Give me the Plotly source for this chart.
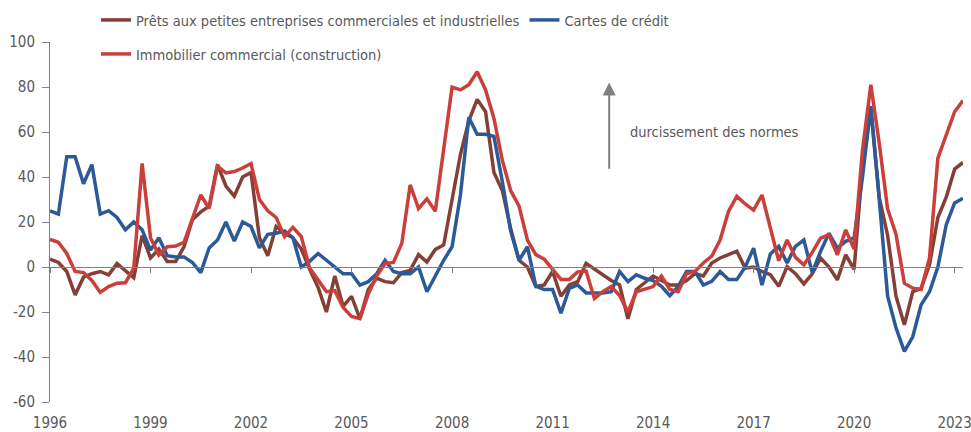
import plotly.graph_objects as go

# ---------------- data (quarterly, 1996Q1 .. 2023Q2) ----------------
start_year = 1996

prets = [
    3.5, 2, -2, -12.4,
    -4.5, -3, -2, -3.5,
    1.5, -1.5, -4.8, 14,
    4, 8, 2.4, 2.4,
    9, 21, 24.5, 27,
    45.5, 36, 31.5, 40,
    42, 13, 5, 18,
    15, 13, 8, -1,
    -9, -20, -4, -17.5,
    -13, -23, -10, -5,
    -6.5, -7, -2.5, -1.5,
    5.5, 2.2, 7.8, 9.8,
    30, 50, 65, 74.5,
    69, 42, 34, 17,
    3, 0, -8.7, -8,
    -2, -13, -8, -6.5,
    1.6, -1, -3.5, -6,
    -8, -23, -10, -7,
    -4, -6, -8, -8,
    -6, -3, -4, 1.8,
    4, 5.5, 7, -0.5,
    0, -2, -3.4, -8.6,
    0.2, -3, -7.5, -3,
    4, 0, -5.7, 5.4,
    -1, 45, 70, 31,
    14, -13, -25.7, -11,
    -9.5, 1, 22, 31,
    43.5, 46.5,
]

cartes = [
    25, 23.5, 49, 49,
    37, 45.5, 23.5, 25,
    22, 16.5, 20, 16.5,
    7.5, 13, 5, 4.5,
    4.5, 2, -2.5, 8.5,
    12, 20, 11.5, 20,
    18, 8.5, 14.5, 15,
    16, 13, 0, 2.5,
    6, 3, 0, -3,
    -3, -8, -6.5, -3,
    3, -2, -3, -3,
    0, -11, -4, 3,
    9, 32, 66.5, 59,
    59, 58, 38, 16,
    3, 9, -8.5, -10,
    -10, -20.5, -9.5, -8,
    -11.5, -11.5, -11.5, -11,
    -2, -6.5, -3.5, -5,
    -6, -8.6, -12.7, -8.6,
    -2, -2, -8, -6.4,
    -2, -5.6, -5.6, 0,
    8.4, -8, 5.8, 9.2,
    1.8, 9.2, 12, -2.5,
    7, 15, 8.4, 11.4,
    13, 40, 71.5, 30,
    -13, -27, -37.5, -31,
    -16.8, -11, 0, 18.8,
    28.5, 30.5,
]

immobilier = [
    12.3, 11, 6, -2,
    -2.5, -6, -11.3, -8.7,
    -7.2, -7, -0.6, 46,
    13, 5.3, 9, 9.3,
    11, 21.5, 32, 26,
    44.8, 41.8, 42.4, 44,
    46, 30, 25, 22,
    13.5, 17.6, 13.5, -0.5,
    -5.5, -11, -10.5, -18,
    -22, -23, -12, -4,
    1.5, 2, 10.5, 36.5,
    26, 30.3, 24.8, 52,
    80, 78.7, 81, 86.8,
    78.7, 66, 47.5, 34,
    27, 12, 5.5, 3.5,
    -1, -5.5, -5.5, -2.2,
    -1.8, -14, -11, -8.7,
    -12.7, -20, -11, -10,
    -8.7, -4, -10, -11,
    -3, -2, 1.8, 4.8,
    12, 24.7, 31.4, 28,
    25.3, 32, 17.3, 2.8,
    12, 4.3, 1, 6.5,
    12.8, 14.3, 5.4, 16.5,
    8, 52, 81, 55,
    25.8, 14.6, -7.2, -9.4,
    -10, 4, 48.4, 58.4,
    69, 74,
]

quarters = [start_year + i / 4 for i in range(len(prets))]

x_tick_years = [1996, 1999, 2002, 2005, 2008, 2011, 2014, 2017, 2020, 2023]
x_tick_labels = [str(y) for y in x_tick_years]
y_tick_values = [-60, -40, -20, 0, 20, 40, 60, 80, 100]
y_tick_labels = [str(v) for v in y_tick_values]

series_names = [
    "Prêts aux petites entreprises commerciales et industrielles",
    "Cartes de crédit",
    "Immobilier commercial (construction)",
]
arrow_label = "durcissement des normes"

# ---------------- styling ----------------
FONT = "Liberation Sans Narrow, DejaVu Sans Condensed, Arial Narrow, sans-serif"
AXIS_GRAY = "#808080"
TEXT_GRAY = "#595959"
BROWN = "#843F36"
BLUE = "#2C5A98"
RED = "#CB3F3A"
x_range = [quarters[0], quarters[-1]]

FIG_W, FIG_H = 971, 432

fig = go.Figure()
fig.add_trace(go.Scatter(x=quarters, y=prets, name=series_names[0], mode="lines",
                         line=dict(color=BROWN, width=3.5), legend="legend"))
fig.add_trace(go.Scatter(x=quarters, y=cartes, name=series_names[1], mode="lines",
                         line=dict(color=BLUE, width=3.5), legend="legend"))
fig.add_trace(go.Scatter(x=quarters, y=immobilier, name=series_names[2], mode="lines",
                         line=dict(color=RED, width=3.5), legend="legend2"))
# helper trace so the zero-line axis is drawn
fig.add_trace(go.Scatter(x=[quarters[0]], y=[0], xaxis="x2", mode="markers",
                         marker=dict(opacity=0), showlegend=False, hoverinfo="skip"))

fig.update_layout(
    width=FIG_W, height=FIG_H,
    margin=dict(l=50, r=8, t=42, b=30, autoexpand=False),
    paper_bgcolor="white", plot_bgcolor="white",
    font=dict(family=FONT, size=14.5, color=TEXT_GRAY),
    showlegend=True,
    xaxis=dict(range=x_range, tickvals=x_tick_years, ticktext=x_tick_labels,
               showgrid=False, zeroline=False, showline=False, automargin=False,
               ticks="outside", ticklen=7, tickcolor="rgba(0,0,0,0)",
               ticklabeloverflow="allow",
               tickfont=dict(family=FONT, size=15, color=TEXT_GRAY)),
    xaxis2=dict(overlaying="x", anchor="free", position=0.375, range=x_range,
                tickvals=x_tick_years, showticklabels=False, automargin=False,
                ticks="outside", ticklen=5, tickcolor=AXIS_GRAY, tickwidth=1,
                showline=True, linecolor=AXIS_GRAY, linewidth=1,
                showgrid=False, zeroline=False),
    yaxis=dict(range=[-60, 100], tickvals=y_tick_values, ticktext=y_tick_labels,
               ticks="outside", ticklen=7, tickcolor=AXIS_GRAY, tickwidth=1,
               showline=True, linecolor=AXIS_GRAY, linewidth=1, automargin=False,
               showgrid=False, zeroline=False, ticklabelstandoff=4,
               ticklabeloverflow="allow",
               tickfont=dict(family=FONT, size=15, color=TEXT_GRAY)),
    legend=dict(orientation="h", xref="container", yref="container",
                x=96 / FIG_W, y=1 - 20 / FIG_H, xanchor="left", yanchor="middle",
                bgcolor="rgba(0,0,0,0)", itemwidth=30,
                font=dict(family=FONT, size=14.5, color=TEXT_GRAY)),
    legend2=dict(orientation="h", xref="container", yref="container",
                 x=96 / FIG_W, y=1 - 54 / FIG_H, xanchor="left", yanchor="middle",
                 bgcolor="rgba(0,0,0,0)", itemwidth=30,
                 font=dict(family=FONT, size=14.5, color=TEXT_GRAY)),
    annotations=[
        dict(x=2012.69, y=82, ax=2012.69, ay=43, xref="x", yref="y",
             axref="x", ayref="y", showarrow=True, text="",
             arrowhead=2, arrowsize=1.3, arrowwidth=2, arrowcolor=AXIS_GRAY),
        dict(x=2013.25, y=60, xref="x", yref="y", text=arrow_label,
             showarrow=False, xanchor="left", yanchor="middle",
             font=dict(family=FONT, size=14.5, color=TEXT_GRAY)),
    ],
)

# remove the browser's default 8 px page margin so the figure fills the window
fig.write_html(
    "out.html",
    config={"displayModeBar": False},
    post_script="document.body.style.margin='0';document.body.style.overflow='hidden';",
)
